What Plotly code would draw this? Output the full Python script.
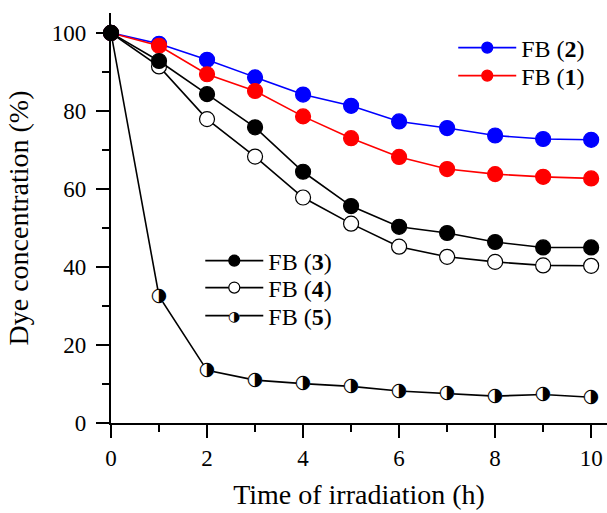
import plotly.graph_objects as go

# ---- data ----
hours = [0, 1, 2, 3, 4, 5, 6, 7, 8, 9, 10]
fb2 = [100, 97.2, 93.1, 88.6, 84.2, 81.3, 77.3, 75.6, 73.7, 72.8, 72.6]
fb1 = [100, 96.7, 89.4, 85.1, 78.6, 73.0, 68.2, 65.1, 63.8, 63.1, 62.7]
fb3 = [100, 92.8, 84.3, 75.8, 64.4, 55.6, 50.3, 48.7, 46.4, 45.0, 45.0]
fb4 = [100, 91.4, 77.9, 68.3, 57.8, 51.1, 45.2, 42.6, 41.3, 40.4, 40.3]
fb5 = [100, 32.5, 13.5, 11.0, 10.1, 9.4, 8.2, 7.5, 6.9, 7.3, 6.6]

x_ticks = [0, 2, 4, 6, 8, 10]
y_ticks = [0, 20, 40, 60, 80, 100]

names = {
    "fb1": "FB (<b>1</b>)",
    "fb2": "FB (<b>2</b>)",
    "fb3": "FB (<b>3</b>)",
    "fb4": "FB (<b>4</b>)",
    "fb5": "FB (<b>5</b>)",
}

SERIF = "Liberation Serif"
HALF = "\u25D1"

fig = go.Figure()

PLOT_MS = 15
LEG_MS = 11


def series(y, color, fill, line_color, half=False):
    mode = "lines+markers+text" if half else "lines+markers"
    fig.add_trace(go.Scatter(
        x=hours, y=y, mode=mode,
        line=dict(color=color, width=1.6),
        marker=dict(size=PLOT_MS - 1 if half else PLOT_MS, color=fill,
                    symbol="circle",
                    line=dict(color=line_color, width=0 if half else 1.2)),
        text=[HALF] * len(y) if half else None,
        textposition="middle center",
        textfont=dict(family="DejaVu Sans", size=19, color="black"),
        showlegend=False, cliponaxis=False, hoverinfo="x+y",
    ))


def legend_entry(name, color, fill, line_color, legend, half=False):
    fig.add_trace(go.Scatter(
        x=[None], y=[None], mode="lines+markers", name=name,
        line=dict(color=color, width=1.6),
        marker=dict(size=LEG_MS - 1 if half else LEG_MS, color=fill,
                    symbol="circle",
                    line=dict(color=line_color, width=0 if half else 1.2)),
        legend=legend, showlegend=True,
    ))


series(fb5, "black", "white", "black", half=True)
series(fb2, "#0000FF", "#0000FF", "#0000FF")
series(fb1, "#FF0000", "#FF0000", "#FF0000")
series(fb4, "black", "white", "black")
series(fb3, "black", "black", "black")

legend_entry(names["fb2"], "#0000FF", "#0000FF", "#0000FF", "legend")
legend_entry(names["fb1"], "#FF0000", "#FF0000", "#FF0000", "legend2")
legend_entry(names["fb3"], "black", "black", "black", "legend3")
legend_entry(names["fb4"], "black", "white", "black", "legend4")
legend_entry(names["fb5"], "black", "white", "black", "legend5", half=True)

axis_common = dict(
    showline=True, linecolor="black", linewidth=2.2,
    ticks="outside", ticklen=13, tickwidth=2.2, tickcolor="black",
    showgrid=False, zeroline=False,
    tickfont=dict(family=SERIF, size=23, color="black"),
)


def leg(x, y):
    return dict(x=x, y=y, xanchor="left", yanchor="middle",
                bgcolor="rgba(0,0,0,0)", itemwidth=58,
                font=dict(family=SERIF, size=24, color="black"))


fig.update_layout(
    width=607, height=513,
    margin=dict(l=111, r=0, t=13, b=90),
    paper_bgcolor="white", plot_bgcolor="white",
    font=dict(family=SERIF, color="black"),
    xaxis=dict(range=[0, 10.33], tickvals=x_ticks,
               minor=dict(dtick=1, tick0=0, ticks="outside", ticklen=7,
                          tickwidth=2.2, tickcolor="black"),
               title=dict(text="Time of irradiation (h)",
                          font=dict(family=SERIF, size=28, color="black")),
               **axis_common),
    yaxis=dict(range=[0, 105.1], tickvals=y_ticks, ticklabelstandoff=5,
               minor=dict(dtick=10, tick0=0, ticks="outside", ticklen=7,
                          tickwidth=2.2, tickcolor="black"),
               title=dict(text="Dye concentration (%)",
                          font=dict(family=SERIF, size=28, color="black")),
               **axis_common),
    legend=leg(0.69, 0.9146),
    legend2=leg(0.69, 0.8463),
    legend3=leg(0.18, 0.3951),
    legend4=leg(0.18, 0.3293),
    legend5=leg(0.18, 0.261),
    annotations=[dict(
        xref="paper", yref="paper", x=0.248, y=0.261,
        text=HALF, showarrow=False, xanchor="center", yanchor="middle",
        font=dict(family="DejaVu Sans", size=14, color="black"),
    )],
)

fig.write_html("out.html")
